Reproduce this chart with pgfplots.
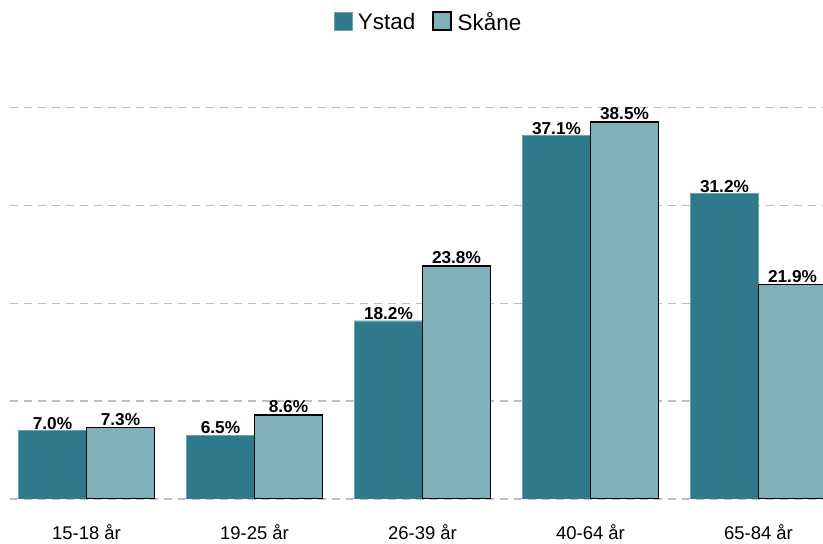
\documentclass[border=0pt]{standalone}
\usepackage{pgfplots}
\pgfplotsset{compat=1.18}
\usepackage{fontspec}
\setmainfont{Liberation Sans}
\definecolor{ystad}{RGB}{46,122,140}
\definecolor{skane}{RGB}{127,177,187}
\definecolor{gridc}{RGB}{190,190,190}
\begin{document}
\begin{tikzpicture}[x=1bp,y=1bp]
\path[use as bounding box] (0,0) rectangle (823,544);
\begin{axis}[
  at={(10bp,45bp)}, anchor=south west,
  scale only axis, width=813bp, height=429bp,
  xmin=-0.455, xmax=4.384, ymin=0, ymax=43.8,
  axis line style={draw=none},
  /pgf/number format/assume math mode=true,
  ytick={0,10,20,30,40}, yticklabels={},
  ymajorgrids, major grid style={gridc, line width=1.1bp, dash pattern=on 8bp off 6bp},
  xtick={0,1,2,3,4},
  xticklabels={15-18 år,19-25 år,26-39 år,40-64 år,65-84 år},
  major tick length=0pt,
  xticklabel style={anchor=base, yshift=-41bp, font=\fontsize{18.5}{21}\selectfont},
  ybar, bar width=68bp,
  nodes near coords={\pgfmathprintnumber[fixed,fixed zerofill,precision=1,assume math mode=true]{\pgfplotspointmeta}\%},
  nodes near coords style={font=\bfseries\fontsize{17.3}{20}\selectfont, inner sep=1bp, anchor=south},
  legend style={at={(0.514,1.112)}, anchor=center, draw=none, legend columns=2,
     font=\fontsize{22.5}{25}\selectfont,
     /tikz/every even column/.append style={column sep=16bp},
     nodes={inner sep=1bp}},
  legend image code/.code={\draw[#1] (0bp,-8bp) rectangle (18bp,10bp); \path (23bp,0bp);},
]
\addplot[fill=ystad, draw=ystad!70!white, bar shift=-34bp] coordinates {(0,7.0) (1,6.5) (2,18.2) (3,37.1) (4,31.2)};
\addplot[fill=skane, draw=black, line width=1.5bp, bar shift=34bp] coordinates {(0,7.3) (1,8.6) (2,23.8) (3,38.5) (4,21.9)};
\legend{Ystad, Skåne}
\end{axis}
\end{tikzpicture}
\end{document}
